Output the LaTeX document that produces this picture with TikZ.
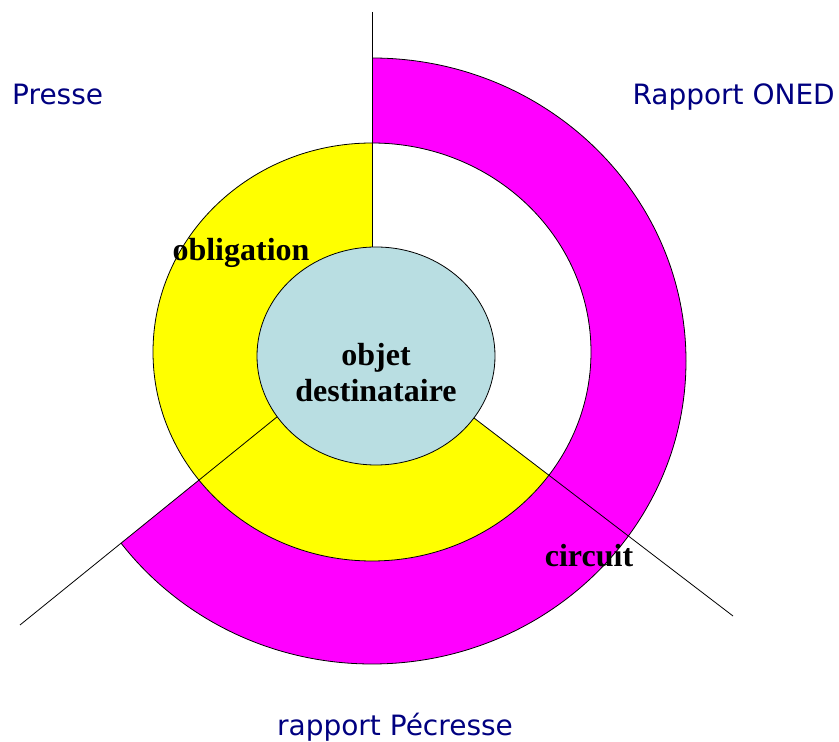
\documentclass[tikz,border=0pt]{standalone}
\usepackage{fontspec}
\usetikzlibrary{shapes.geometric}
\newfontfamily\titrefont{DejaVu Sans}
\newfontfamily\motfont{Liberation Serif}
\definecolor{bleunuit}{RGB}{0,0,128}
\definecolor{bleupale}{RGB}{185,222,226}
\definecolor{rose}{RGB}{255,0,255}
\definecolor{jaune}{RGB}{255,255,0}
\begin{document}
\begin{tikzpicture}[x=1pt, y=1pt,
    titre/.style={text=bleunuit, inner sep=0pt, font=\titrefont\fontsize{28}{34}\selectfont},
    mot/.style={inner sep=0pt, align=center, font=\motfont\bfseries\fontsize{32}{36}\selectfont},
    trait/.style={black, line width=0.8pt}]
    \useasboundingbox (0,0) rectangle (839,742);

    \coordinate (hub) at (372,402);
    \coordinate (haut) at (372,730);
    \coordinate (basg) at (20,117);
    \coordinate (basd) at (733,126);

    \begin{scope}
        \clip (hub) -- (372,800) -- (900,800) -- (900,-100) -- (-100,-100) -- (-100,20) -- cycle;
        \fill[rose, even odd rule] (372,381) ellipse [x radius=314, y radius=303]
            (372,390) ellipse [x radius=219, y radius=209];
        \draw[trait] (372,381) ellipse [x radius=314, y radius=303];
    \end{scope}

    \begin{scope}
        \clip (hub) -- (372,800) -- (-100,800) -- (-100,-100) -- (900,-100) -- (900,-2) -- cycle;
        \fill[jaune] (372,390) ellipse [x radius=219, y radius=209];
    \end{scope}
    \draw[trait] (372,390) ellipse [x radius=219, y radius=209];

    \draw[trait] (haut) -- (hub);
    \draw[trait] (basg) -- (hub);
    \draw[trait] (basd) -- (hub);

    \node[draw, trait, ellipse, fill=bleupale, minimum width=238pt, minimum height=218pt] (objet) at (376,386) {};

    \node[mot] (objtxt) at (376,369) {objet\\destinataire};
    \node[mot, anchor=base] (oblig) at (241,481) {obligation};
    \node[mot, anchor=base] (circ) at (589,175) {circuit};

    \node[titre, anchor=base west] (presse) at (12,637) {Presse};
    \node[titre, anchor=base east] (oned) at (835,637) {Rapport ONED};
    \node[titre, anchor=base] (pecresse) at (395,6) {rapport Pécresse};
\end{tikzpicture}
\end{document}
